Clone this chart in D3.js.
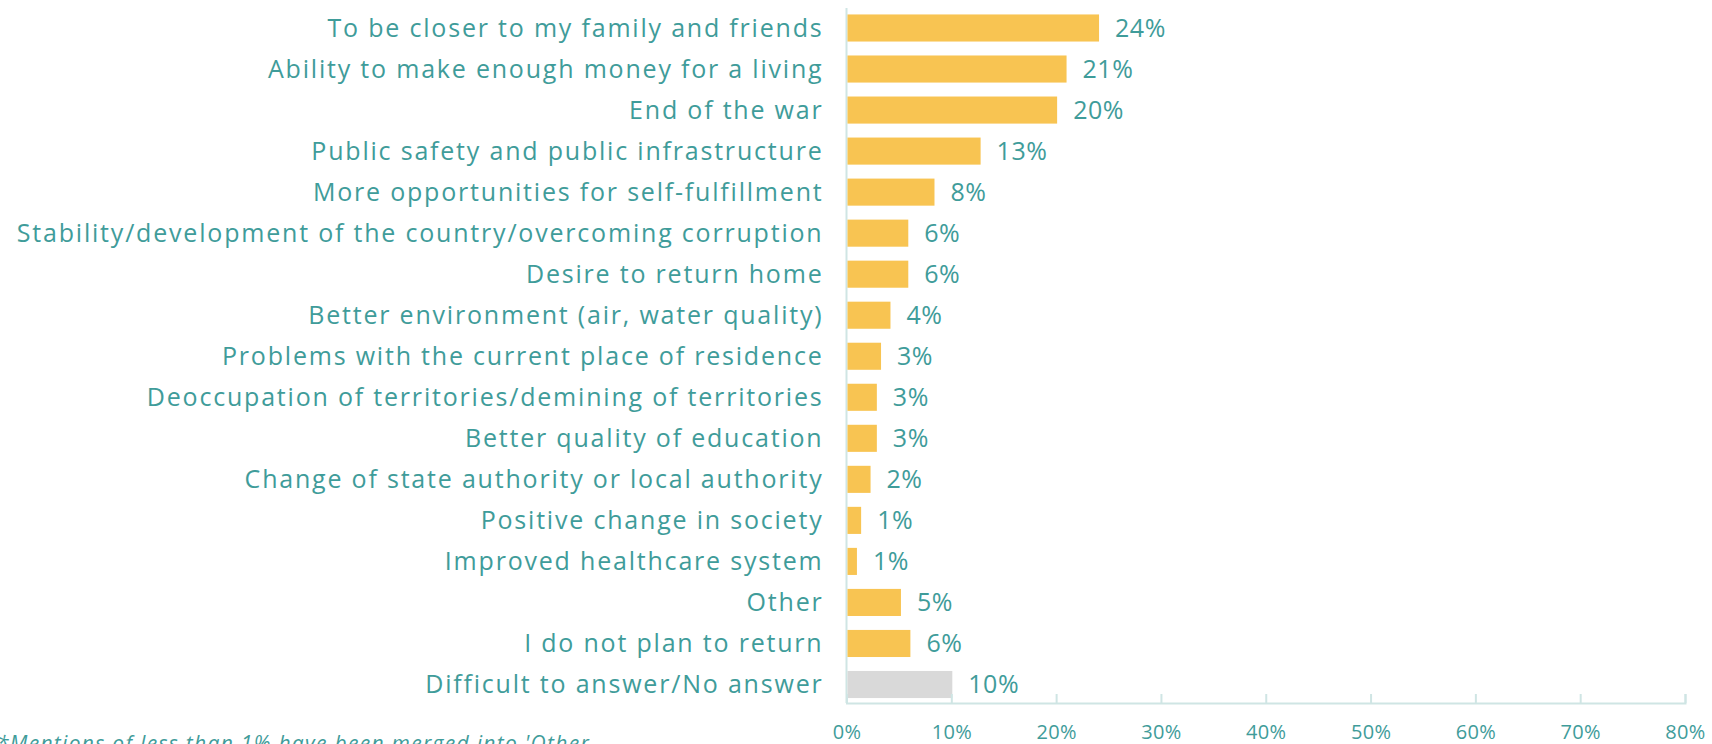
<!DOCTYPE html>
<html>
<head>
<meta charset="utf-8">
<script src="https://cdn.jsdelivr.net/npm/d3@7"></script>
<style>
  html, body { margin: 0; padding: 0; background: #ffffff; overflow: hidden; }
  svg { display: block; }
  text { font-family: "Open Sans", "Noto Sans", sans-serif; }
</style>
</head>
<body>
<svg id="chart" width="1712" height="744"></svg>
<script>
const categories = [
  "To be closer to my family and friends",
  "Ability to make enough money for a living",
  "End of the war",
  "Public safety and public infrastructure",
  "More opportunities for self-fulfillment",
  "Stability/development of the country/overcoming corruption",
  "Desire to return home",
  "Better environment (air, water quality)",
  "Problems with the current place of residence",
  "Deoccupation of territories/demining of territories",
  "Better quality of education",
  "Change of state authority or local authority",
  "Positive change in society",
  "Improved healthcare system",
  "Other",
  "I do not plan to return",
  "Difficult to answer/No answer"
];
const values = [24.0, 20.9, 20.0, 12.7, 8.3, 5.8, 5.8, 4.1, 3.2, 2.8, 2.8, 2.2, 1.3, 0.9, 5.1, 6.0, 10.0];
const valueLabels = ["24%", "21%", "20%", "13%", "8%", "6%", "6%", "4%", "3%", "3%", "3%", "2%", "1%", "1%", "5%", "6%", "10%"];
const greyCategory = "Difficult to answer/No answer";
const xTicks = [0, 10, 20, 30, 40, 50, 60, 70, 80];
const xTickLabels = ["0%", "10%", "20%", "30%", "40%", "50%", "60%", "70%", "80%"];
const footnote = "*Mentions of less than 1% have been merged into 'Other";

const svg = d3.select("#chart");
const teal = "#3f9c9a";
const axisColor = "#cfe5e4";
const yellow = "#f8c452";
const grey = "#d9d9d9";

const x = d3.scaleLinear().domain([0, 80]).range([846.5, 1685]);
const y = d3.scaleBand().domain(categories).range([0.5, 712]).paddingInner(0.34).paddingOuter(0.34);
const axisY = 703;

// vertical axis line
svg.append("line")
  .attr("x1", x(0)).attr("x2", x(0))
  .attr("y1", 8).attr("y2", axisY)
  .attr("stroke", axisColor).attr("stroke-width", 2);

// bars
svg.append("g").selectAll("rect")
  .data(categories)
  .join("rect")
  .attr("x", x(0) + 1)
  .attr("y", d => y(d))
  .attr("width", (d, i) => x(values[i]) - x(0))
  .attr("height", y.bandwidth())
  .attr("fill", d => d === greyCategory ? grey : yellow);

// category labels
svg.append("g").selectAll("text")
  .data(categories)
  .join("text")
  .attr("x", 823.5)
  .attr("y", d => y(d) + y.bandwidth() / 2)
  .attr("dy", "0.35em")
  .attr("text-anchor", "end")
  .attr("font-size", 25)
  .attr("letter-spacing", "1.8px")
  .attr("fill", teal)
  .text(d => d);

// value labels
svg.append("g").selectAll("text")
  .data(categories)
  .join("text")
  .attr("x", (d, i) => x(values[i]) + 17)
  .attr("y", d => y(d) + y.bandwidth() / 2)
  .attr("dy", "0.35em")
  .attr("font-size", 25)
  .attr("letter-spacing", "0.5px")
  .attr("fill", teal)
  .text((d, i) => valueLabels[i]);

// x axis
const xAxis = d3.axisBottom(x)
  .tickValues(xTicks)
  .tickFormat((d, i) => xTickLabels[i])
  .tickSize(-9)
  .tickPadding(22);
const gx = svg.append("g")
  .attr("transform", `translate(0,${axisY})`)
  .call(xAxis);
gx.select(".domain").attr("stroke", axisColor).attr("stroke-width", 2);
gx.selectAll(".tick line").attr("stroke", axisColor).attr("stroke-width", 2);
gx.selectAll(".tick text")
  .attr("fill", teal)
  .attr("font-size", 20)
  .attr("letter-spacing", "0.3px")
  .attr("font-family", "'Open Sans', 'Noto Sans', sans-serif");

// footnote
svg.append("text")
  .attr("x", -3)
  .attr("y", 751)
  .attr("font-size", 21)
  .attr("font-style", "italic")
  .attr("letter-spacing", "1.3px")
  .attr("fill", teal)
  .text(footnote);
</script>
</body>
</html>
